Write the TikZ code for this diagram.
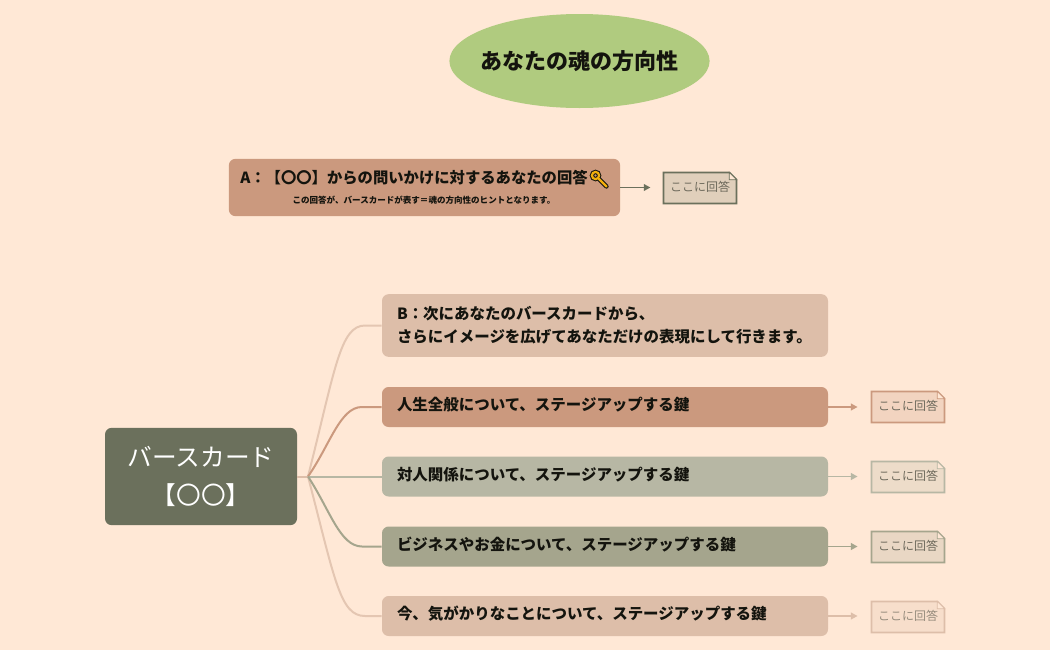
\documentclass[tikz,border=0pt]{standalone}
\usepackage{fontspec}
\setmainfont{Noto Sans CJK JP}
\usetikzlibrary{arrows.meta,shapes.geometric}
\definecolor{paper}{HTML}{FFE8D6}
\definecolor{clay}{HTML}{CB997E}
\definecolor{sand}{HTML}{DDBEA9}
\definecolor{sage}{HTML}{B7B7A4}
\definecolor{moss}{HTML}{A5A58D}
\definecolor{olive}{HTML}{6B705C}
\definecolor{leaf}{HTML}{B0CB7F}
\definecolor{ink}{HTML}{14140E}
\definecolor{pen}{HTML}{6E6A5C}
\definecolor{keygold}{HTML}{F2AE0C}
\definecolor{oatmeal}{HTML}{E0CFBB}
\tikzset{
  barbox/.style={rounded corners=5pt, text=ink, font=\fontsize{11.6pt}{17.5pt}\selectfont\bfseries,
    align=left, text width=312pt, minimum width=334.5pt, inner sep=0pt},
  barrow/.style={barbox, minimum height=30pt, text depth=4.4pt},
  notebox/.style={text=pen, font=\fontsize{9pt}{11pt}\selectfont, minimum width=54.5pt,
    minimum height=23pt, inner sep=0pt, text depth=2.4pt},
  branch/.style={line width=1.5pt},
  toarrow/.style={line width=1.4pt, -{Triangle[length=5pt,width=5pt]}}
}
\newcommand{\notecorner}[3]{
  \fill[#3] (#1.south west) -- (#1.north west) -- ([xshift=-5.5pt]#1.north east)
    -- ([yshift=-5.5pt]#1.north east) -- (#1.south east) -- cycle;
  \draw[#2, line width=1.3pt] (#1.south west) -- (#1.north west) -- ([xshift=-5.5pt]#1.north east)
    -- ([yshift=-5.5pt]#1.north east) -- (#1.south east) -- cycle;
  \draw[#2, line width=.6pt, fill=paper] ([xshift=-5.5pt]#1.north east) -- ([xshift=-5.5pt,yshift=-5.5pt]#1.north east)
    -- ([yshift=-5.5pt]#1.north east) -- cycle;
}
\begin{document}
\begin{tikzpicture}[x=0.75pt,y=-0.75pt]
\fill[paper] (0,0) rectangle (1050,650);
\useasboundingbox (0,0) rectangle (1050,650);

\node[ellipse, fill=leaf, minimum width=195pt, minimum height=70.5pt, inner ysep=0pt, inner xsep=-5.25pt, text=ink,
  font=\fontsize{16.5pt}{20pt}\selectfont\bfseries] (title) at (579.5,61) {あなたの魂の方向性};

\node[rounded corners=5pt, fill=clay, minimum width=293.5pt, minimum height=43pt, inner sep=0pt] (qa) at (424.5,187.5) {};
\node[anchor=west, inner sep=0pt, text=ink, font=\fontsize{11.5pt}{14pt}\selectfont\bfseries] (qatext) at (240,178) {A：【〇〇】からの問いかけに対するあなたの回答};
\node[inner sep=0pt, text=ink, font=\fontsize{6.4pt}{8pt}\selectfont\bfseries] (qasub) at (424,200) {この回答が、バースカードが表す＝魂の方向性のヒントとなります。};
\draw[ink, line width=3.2pt, line cap=round] (595.5,175.5) circle[radius=3.6] (599,179) -- (606.5,186.5);
\draw[keygold, line width=1.7pt] (595.5,175.5) circle[radius=3.6];
\draw[keygold, line width=1.7pt, line cap=round] (599,179) -- (606.5,186.5);
\node[notebox] (qanote) at (700,188) {};
\notecorner{qanote}{olive}{oatmeal}
\node[notebox] at (qanote) {ここに回答};
\draw[toarrow, olive] (qa.east) -- ([xshift=22.5pt]qa.east);

\node[rounded corners=5pt, fill=olive, text=white, minimum width=144pt, minimum height=73pt, align=center,
  font=\fontsize{18.5pt}{27pt}\selectfont] (card) at (201,476.5) {\raisebox{1pt}{バースカード}\\【〇〇】};
\coordinate (hub) at (308,476.5);

\node[barbox, fill=sand, minimum height=47pt] (stepb) at (605,325.5) {B：次にあなたのバースカードから、\\さらにイメージを広げてあなただけの表現にして行きます。};
\node[barrow, fill=clay] (life) at (605,407) {人生全般について、ステージアップする鍵};
\node[barrow, fill=sage] (people) at (605,476.5) {対人関係について、ステージアップする鍵};
\node[barrow, fill=moss] (money) at (605,546.5) {ビジネスやお金について、ステージアップする鍵};
\node[barrow, fill=sand] (now) at (605,616) {今、気がかりなことについて、ステージアップする鍵};

\draw[branch, sand] (card.east) -- (hub);
\draw[branch, sand!80!paper] (hub) .. controls (335,370) and (340,325.5) .. (365,325.5) -- (stepb.west);
\draw[branch, sand!80!paper] (hub) .. controls (335,580) and (340,616) .. (365,616) -- (now.west);
\draw[branch, clay] (hub) .. controls (330,445) and (340,407) .. (362,407) -- (life.west);
\draw[branch, sage] (hub) -- (people.west);
\draw[branch, moss] (hub) .. controls (330,510) and (340,546.5) .. (362,546.5) -- (money.west);

\node[notebox] (lifenote) at (908,407) {};
\notecorner{lifenote}{clay}{clay!25!paper}
\node[notebox] at (lifenote) {ここに回答};
\node[notebox] (peoplenote) at (908,477) {};
\notecorner{peoplenote}{sage}{sage!25!paper}
\node[notebox] at (peoplenote) {ここに回答};
\node[notebox] (moneynote) at (908,547) {};
\notecorner{moneynote}{moss}{moss!25!paper}
\node[notebox] at (moneynote) {ここに回答};
\node[notebox] (nownote) at (908,617) {};
\notecorner{nownote}{sand}{sand!25!paper}
\node[notebox, opacity=.7] at (nownote) {ここに回答};

\draw[toarrow, clay] (life.east) -- ([xshift=22pt]life.east);
\draw[toarrow, sage] (people.east) -- ([xshift=22pt]people.east);
\draw[toarrow, moss] (money.east) -- ([xshift=22pt]money.east);
\draw[toarrow, sand] (now.east) -- ([xshift=22pt]now.east);
\end{tikzpicture}
\end{document}
